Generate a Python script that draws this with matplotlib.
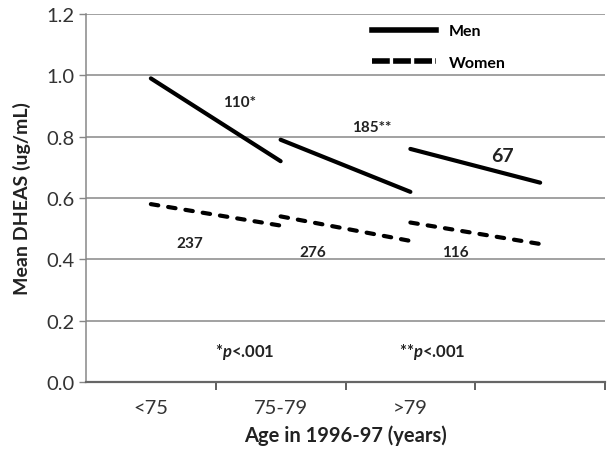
import matplotlib
matplotlib.use("Agg")
import matplotlib.pyplot as plt
from matplotlib.lines import Line2D

# age groups (last slot is the empty end point of the >79 segment)
categories = ["<75", "75-79", ">79", ""]

# men: start and end of each follow-up segment
men_start = [0.99, 0.79, 0.76]
men_end = [0.72, 0.62, 0.65]

# women
women_start = [0.58, 0.54, 0.52]
women_end = [0.51, 0.46, 0.45]

# sample sizes
men_n = ["110*", "185**", "67"]
women_n = ["237", "276", "116"]
p_notes = ["*$p$<.001", "**$p$<.001"]

plt.rcParams["font.family"] = ["Lato", "DejaVu Sans"]
plt.rcParams["mathtext.fontset"] = "custom"
plt.rcParams["mathtext.it"] = "Lato:italic:bold"
plt.rcParams["mathtext.rm"] = "Lato:bold"

fig = plt.figure(figsize=(6.12, 4.6), dpi=100)
ax = fig.add_axes([0.1405, 0.1674, 0.8481, 0.8])

grey = "#878787"
men_style = dict(color="black", lw=3.0, solid_capstyle="round")
women_style = dict(color="black", lw=3.0, dashes=(1.8, 2.4), dash_capstyle="round")

for i in range(len(men_start)):
    ax.plot([i, i + 1], [men_start[i], men_end[i]], **men_style)
    ax.plot([i, i + 1], [women_start[i], women_end[i]], **women_style)

# n labels
men_pos = [(0.686, 0.913), (1.704, 0.832), (2.706, 0.740)]
women_pos = [(0.30, 0.453), (1.25, 0.424), (2.35, 0.424)]
for (x, y), s in zip(men_pos, men_n):
    fs = 14 if s == "67" else 11
    ax.text(x, y, s, ha="center", va="center", fontsize=fs, fontweight="bold",
            color="#222222")
for (x, y), s in zip(women_pos, women_n):
    ax.text(x, y, s, ha="center", va="center", fontsize=11, fontweight="bold",
            color="#222222")
for x, s in zip([0.725, 2.167], p_notes):
    ax.text(x, 0.10, s, ha="center", va="center", fontsize=12, fontweight="bold",
            color="#222222")

# axes
ax.set_xlim(-0.5, 3.5)
ax.set_ylim(0, 1.2)
ax.set_yticks([0.0, 0.2, 0.4, 0.6, 0.8, 1.0, 1.2])
ax.set_yticklabels(["%.1f" % v for v in ax.get_yticks()])
ax.set_xticks(range(len(categories)))
ax.set_xticklabels(categories)
ax.set_xticks([0.5, 1.5, 2.5, 3.5], minor=True)
ax.tick_params(axis="x", which="major", length=0, pad=12, labelsize=14.5,
               labelcolor="#333333")
ax.tick_params(axis="x", which="minor", length=6, width=1.2, color="#444444")
ax.tick_params(axis="y", length=5, width=1, color=grey, labelsize=14.5,
               labelcolor="#333333", pad=3)
ax.grid(axis="y", color=grey, lw=1.1)
ax.set_axisbelow(True)
for side in ["top", "right"]:
    ax.spines[side].set_visible(False)
ax.spines["left"].set_color(grey)
ax.spines["bottom"].set_color("#666666")
ax.spines["bottom"].set_linewidth(1.6)
ax.spines["left"].set_linewidth(1.1)

ax.set_xlabel("Age in 1996-97 (years)", fontsize=14.5, fontweight="bold",
              labelpad=6, color="#222222")
ax.set_ylabel("Mean DHEAS (ug/mL)", fontsize=14, fontweight="bold",
              labelpad=11, color="#222222")

handles = [
    Line2D([], [], color="black", lw=4.0),
    Line2D([], [], color="black", lw=4.0, dashes=(3.2, 0.6)),
]
ax.legend(handles, ["Men", "Women"], loc="upper left", bbox_to_anchor=(0.551, 0.973),
          frameon=False, handlelength=4.0, handletextpad=0.8,
          labelspacing=1.1, borderpad=0, borderaxespad=0,
          prop={"weight": "bold", "size": 11.5})

fig.savefig("out.png", dpi=100)
